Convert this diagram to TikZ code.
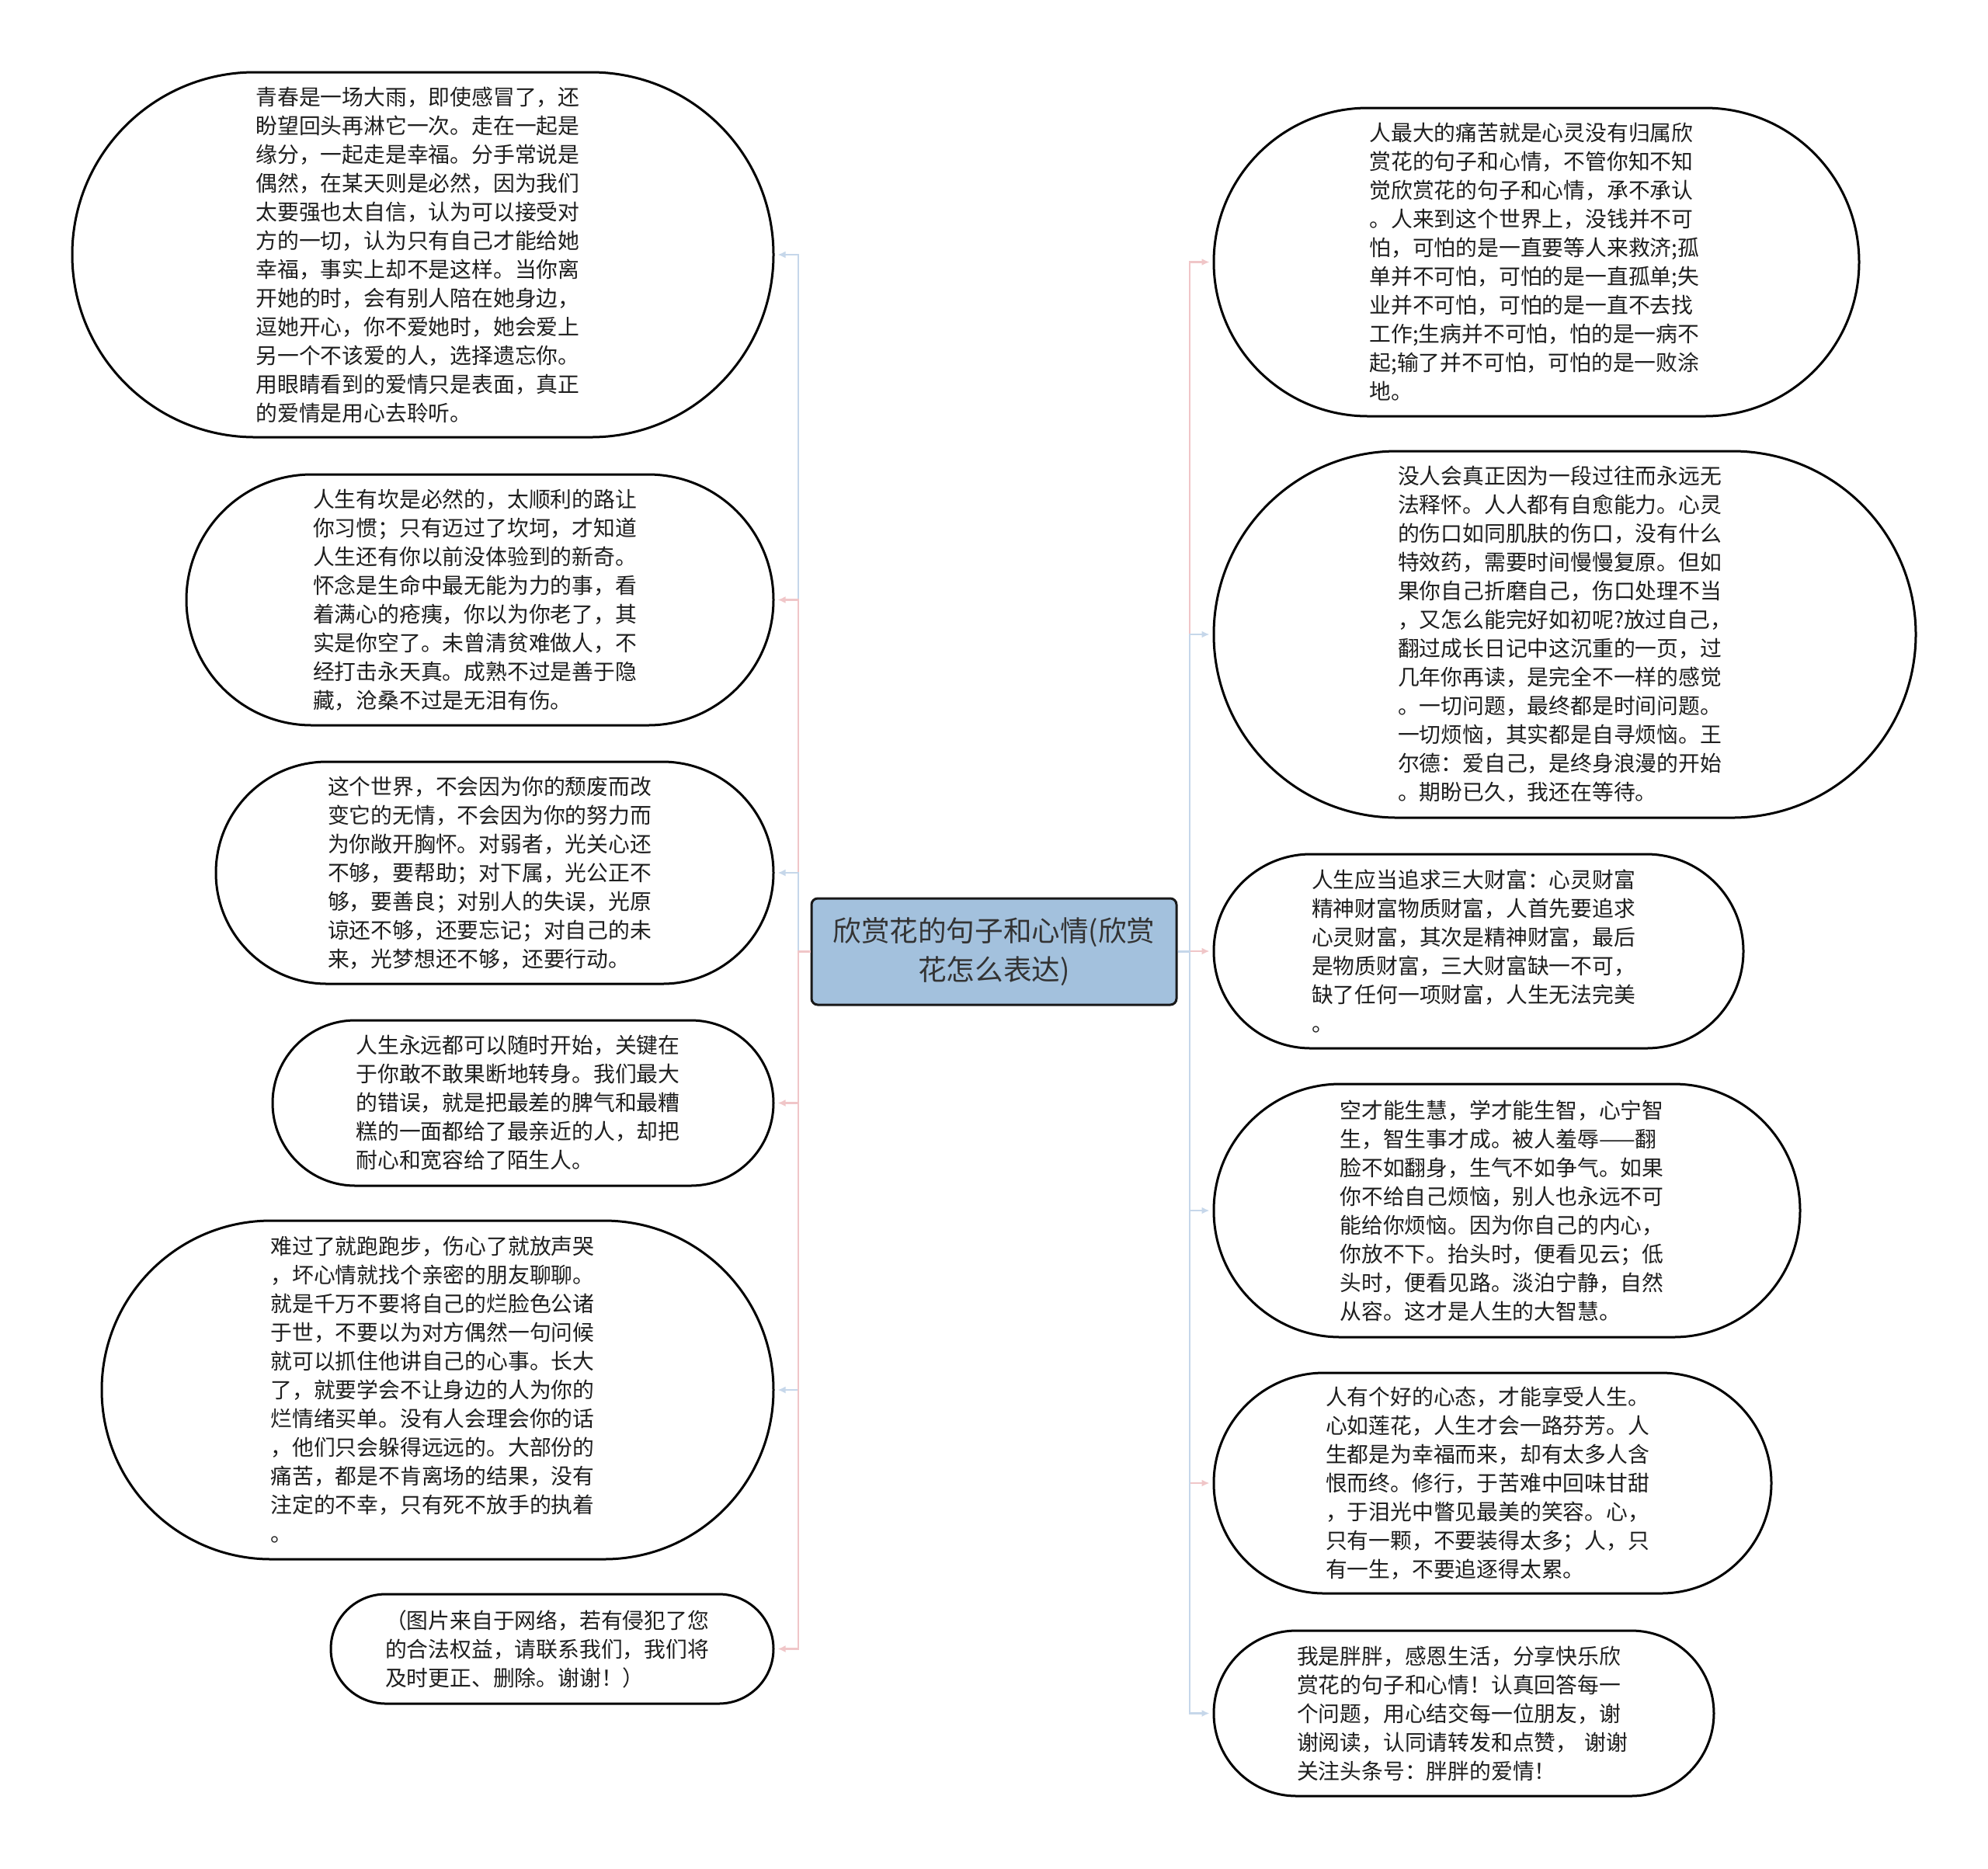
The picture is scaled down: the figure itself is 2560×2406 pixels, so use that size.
\documentclass[tikz,border=0pt]{standalone}
\usepackage{fontspec}
\setmainfont{Noto Sans CJK SC}
\usetikzlibrary{shapes.misc,arrows.meta}
\definecolor{edgeblue}{HTML}{C6D7EA}
\definecolor{edgepink}{HTML}{F0C6C8}
\definecolor{rootfill}{HTML}{A3C1DD}
\definecolor{txt}{HTML}{1E1E1E}
\begin{document}
\begin{tikzpicture}[x=0.5pt,y=-0.5pt,
  bubble/.style={rounded rectangle, draw=black, line width=1.5pt, fill=white,
    inner xsep=0pt, inner ysep=0pt, text width=215pt, align=left, text=txt,
    font=\fontsize{13.9pt}{18.5pt}\selectfont},
  root/.style={rectangle, rounded corners=4pt, draw=black!90, line width=1.5pt,
    fill=rootfill, minimum width=235pt, minimum height=68.5pt, inner sep=0pt,
    align=center, text=black!80, font=\fontsize{18.3pt}{25pt}\selectfont},
  conn/.style={line width=1.3pt, -{Latex[length=5pt,width=4.5pt]}, shorten >=2pt},
  cb/.style={conn, draw=edgeblue},
  cp/.style={conn, draw=edgepink}]
\useasboundingbox[fill=white] (0,0) rectangle (2560,2406);

\node[root] (c) at (1280,1225.5) {欣赏花的句子和心情(欣赏\\花怎么表达)};

% left column
\node[bubble, minimum width=451.5pt, minimum height=235pt] (l1) at (544.5,328) {青春是一场大雨，即使感冒了，还\\盼望回头再淋它一次。走在一起是\\缘分，一起走是幸福。分手常说是\\偶然，在某天则是必然，因为我们\\太要强也太自信，认为可以接受对\\方的一切，认为只有自己才能给她\\幸福，事实上却不是这样。当你离\\开她的时，会有别人陪在她身边，\\逗她开心，你不爱她时，她会爱上\\另一个不该爱的人，选择遗忘你。\\用眼睛看到的爱情只是表面，真正\\的爱情是用心去聆听。};
\node[bubble, minimum width=378pt, minimum height=161.5pt] (l2) at (618,772.5) {人生有坎是必然的，太顺利的路让\\你习惯；只有迈过了坎坷，才知道\\人生还有你以前没体验到的新奇。\\怀念是生命中最无能为力的事，看\\着满心的疮痍，你以为你老了，其\\实是你空了。未曾清贫难做人，不\\经打击永天真。成熟不过是善于隐\\藏，沧桑不过是无泪有伤。};
\node[bubble, minimum width=359pt, minimum height=143pt] (l3) at (637,1124) {这个世界，不会因为你的颓废而改\\变它的无情，不会因为你的努力而\\为你敞开胸怀。对弱者，光关心还\\不够，要帮助；对下属，光公正不\\够，要善良；对别人的失误，光原\\谅还不够，还要忘记；对自己的未\\来，光梦想还不够，还要行动。};
\node[bubble, minimum width=322.5pt, minimum height=106.5pt] (l4) at (673.5,1420.5) {人生永远都可以随时开始，关键在\\于你敢不敢果断地转身。我们最大\\的错误，就是把最差的脾气和最糟\\糕的一面都给了最亲近的人，却把\\耐心和宽容给了陌生人。};
\node[bubble, minimum width=432.5pt, minimum height=218pt] (l5) at (563.5,1790) {难过了就跑跑步，伤心了就放声哭\\，坏心情就找个亲密的朋友聊聊。\\就是千万不要将自己的烂脸色公诸\\于世，不要以为对方偶然一句问候\\就可以抓住他讲自己的心事。长大\\了，就要学会不让身边的人为你的\\烂情绪买单。没有人会理会你的话\\，他们只会躲得远远的。大部份的\\痛苦，都是不肯离场的结果，没有\\注定的不幸，只有死不放手的执着\\。};
\node[bubble, minimum width=285pt, minimum height=70.5pt] (l6) at (711,2123.5) {（图片来自于网络，若有侵犯了您\\的合法权益，请联系我们，我们将\\及时更正、删除。谢谢！）};

% right column
\node[bubble, minimum width=415.5pt, minimum height=198.5pt] (r1) at (1978.5,337.5) {人最大的痛苦就是心灵没有归属欣\\赏花的句子和心情，不管你知不知\\觉欣赏花的句子和心情，承不承认\\。人来到这个世界上，没钱并不可\\怕，可怕的是一直要等人来救济;孤\\单并不可怕，可怕的是一直孤单;失\\业并不可怕，可怕的是一直不去找\\工作;生病并不可怕，怕的是一病不\\起;输了并不可怕，可怕的是一败涂\\地。};
\node[bubble, minimum width=452pt, minimum height=236pt] (r2) at (2015,817) {没人会真正因为一段过往而永远无\\法释怀。人人都有自愈能力。心灵\\的伤口如同肌肤的伤口，没有什么\\特效药，需要时间慢慢复原。但如\\果你自己折磨自己，伤口处理不当\\，又怎么能完好如初呢?放过自己，\\翻过成长日记中这沉重的一页，过\\几年你再读，是完全不一样的感觉\\。一切问题，最终都是时间问题。\\一切烦恼，其实都是自寻烦恼。王\\尔德：爱自己，是终身浪漫的开始\\。期盼已久，我还在等待。};
\node[bubble, minimum width=341pt, minimum height=125pt] (r3) at (1904,1225) {人生应当追求三大财富：心灵财富\\精神财富物质财富，人首先要追求\\心灵财富，其次是精神财富，最后\\是物质财富，三大财富缺一不可，\\缺了任何一项财富，人生无法完美\\。};
\node[bubble, minimum width=377.5pt, minimum height=163pt] (r4) at (1940.5,1559) {空才能生慧，学才能生智，心宁智\\生，智生事才成。被人羞辱——翻\\脸不如翻身，生气不如争气。如果\\你不给自己烦恼，别人也永远不可\\能给你烦恼。因为你自己的内心，\\你放不下。抬头时，便看见云；低\\头时，便看见路。淡泊宁静，自然\\从容。这才是人生的大智慧。};
\node[bubble, minimum width=359pt, minimum height=142pt] (r5) at (1922,1910) {人有个好的心态，才能享受人生。\\心如莲花，人生才会一路芬芳。人\\生都是为幸福而来，却有太多人含\\恨而终。修行，于苦难中回味甘甜\\，于泪光中瞥见最美的笑容。心，\\只有一颗，不要装得太多；人，只\\有一生，不要追逐得太累。};
\node[bubble, minimum width=322pt, minimum height=106.5pt] (r6) at (1885,2206.5) {我是胖胖，感恩生活，分享快乐欣\\赏花的句子和心情！认真回答每一\\个问题，用心结交每一位朋友，谢\\谢阅读，认同请转发和点赞， 谢谢\\关注头条号：胖胖的爱情！};

% trunks
\coordinate (tl) at (1028,1225.5);
\coordinate (tr) at (1532,1225.5);

% connectors (drawn in order, later ones overlay the trunk)
\draw[cb] (c.west) -- (tl) |- (l1.east);
\draw[cp] (c.west) -- (tl) |- (l2.east);
\draw[cb] (c.west) -- (tl) |- (l3.east);
\draw[cp] (c.west) -- (tl) |- (l4.east);
\draw[cb] (c.west) -- (tl) |- (l5.east);
\draw[cp] (c.west) -- (tl) |- (l6.east);

\draw[cp] (c.east) -- (tr) |- (r1.west);
\draw[cb] (c.east) -- (tr) |- (r2.west);
\draw[cp] (c.east) -- (tr) |- (r3.west);
\draw[cb] (c.east) -- (tr) |- (r4.west);
\draw[cp] (c.east) -- (tr) |- (r5.west);
\draw[cb] (c.east) -- (tr) |- (r6.west);
\end{tikzpicture}
\end{document}
